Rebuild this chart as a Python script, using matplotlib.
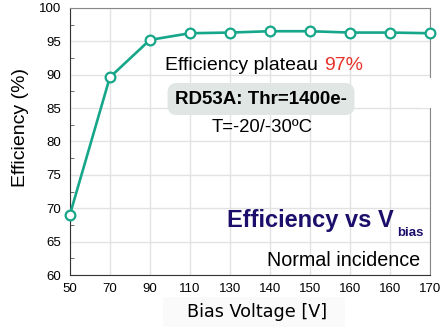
import matplotlib
matplotlib.use("Agg")
from matplotlib import pyplot as plt
from matplotlib.patches import Rectangle
import numpy as np

tick_labels = ["50", "70", "90", "110", "130", "140", "150", "160", "160", "170"]
efficiency = [69.0, 89.6, 95.2, 96.2, 96.3, 96.5, 96.5, 96.3, 96.3, 96.2]

green = "#16a689"
W, H = 442, 327
plt.rcParams['font.family'] = ['Liberation Sans', 'DejaVu Sans']

fig = plt.figure(figsize=(W / 100, H / 100), dpi=100)
ax = fig.add_axes([0.158, 0.159, 0.815, 0.817])


def px(x, y):
    # figure pixel position (from top left) to figure fraction
    return x / W, 1 - y / H


x = np.arange(len(tick_labels))
ax.plot(x, efficiency, '-', color=green, lw=1.9, marker='o', ms=7,
        mfc='white', mec=green, mew=1.6, zorder=3, clip_on=False)

ax.set_xlim(0, len(tick_labels) - 1)
ax.set_ylim(60, 100)
ax.set_xticks(x)
ax.set_xticklabels(tick_labels)
ax.set_yticks(np.arange(60, 101, 5))
ax.set_yticks(np.arange(60, 100, 2.5), minor=True)
ax.tick_params(axis='both', labelsize=9.5, length=0, pad=6)
ax.tick_params(axis='y', which='minor', length=3, direction='in', color='#555555')
ax.grid(True, color='#e2e2e2', lw=1.0)
for s in ax.spines.values():
    s.set_color('#888888')
    s.set_linewidth(0.8)
ax.spines['left'].set_color('#333333')
ax.spines['bottom'].set_color('#333333')

# axis titles
fig.text(*px(21, 128), "Efficiency (%)", fontsize=14, rotation=90,
         ha='center', va='center')
fig.text(*px(257, 312), "Bias Voltage [V]", fontsize=12.7, family='DejaVu Sans',
         ha='center', va='center')
fig.patches.append(Rectangle(px(163, 327), 182 / W, 30 / H, transform=fig.transFigure,
                             fc='#fafafa', ec='none', zorder=-1))

# annotations
fig.text(*px(165, 65), "Efficiency plateau", fontsize=14, ha='left', va='center')
fig.text(*px(324, 65), "97%", fontsize=14, color='#e8332a', ha='left', va='center')
fig.patches.append(Rectangle(px(420, 108), 22 / W, 30 / H, transform=fig.transFigure,
                             fc='white', ec='none', zorder=5))
fig.text(*px(261, 99), "RD53A: Thr=1400e-", fontsize=13.5, weight='bold',
         ha='center', va='center',
         bbox=dict(boxstyle='round,pad=0.4,rounding_size=0.5', fc='#dfe6e3', ec='none'))
fig.text(*px(262, 128), "T=-20/-30ºC", fontsize=13.3, ha='center', va='center')
fig.text(*px(227, 220), "Efficiency vs V", fontsize=17, weight='bold',
         color='#1b0f6b', ha='left', va='center')
fig.text(*px(424, 233), "bias", fontsize=9.5, weight='bold',
         color='#1b0f6b', ha='right', va='center')
fig.text(*px(420, 260), "Normal incidence", fontsize=14.2, ha='right', va='center')

fig.savefig("out.png", dpi=100)
